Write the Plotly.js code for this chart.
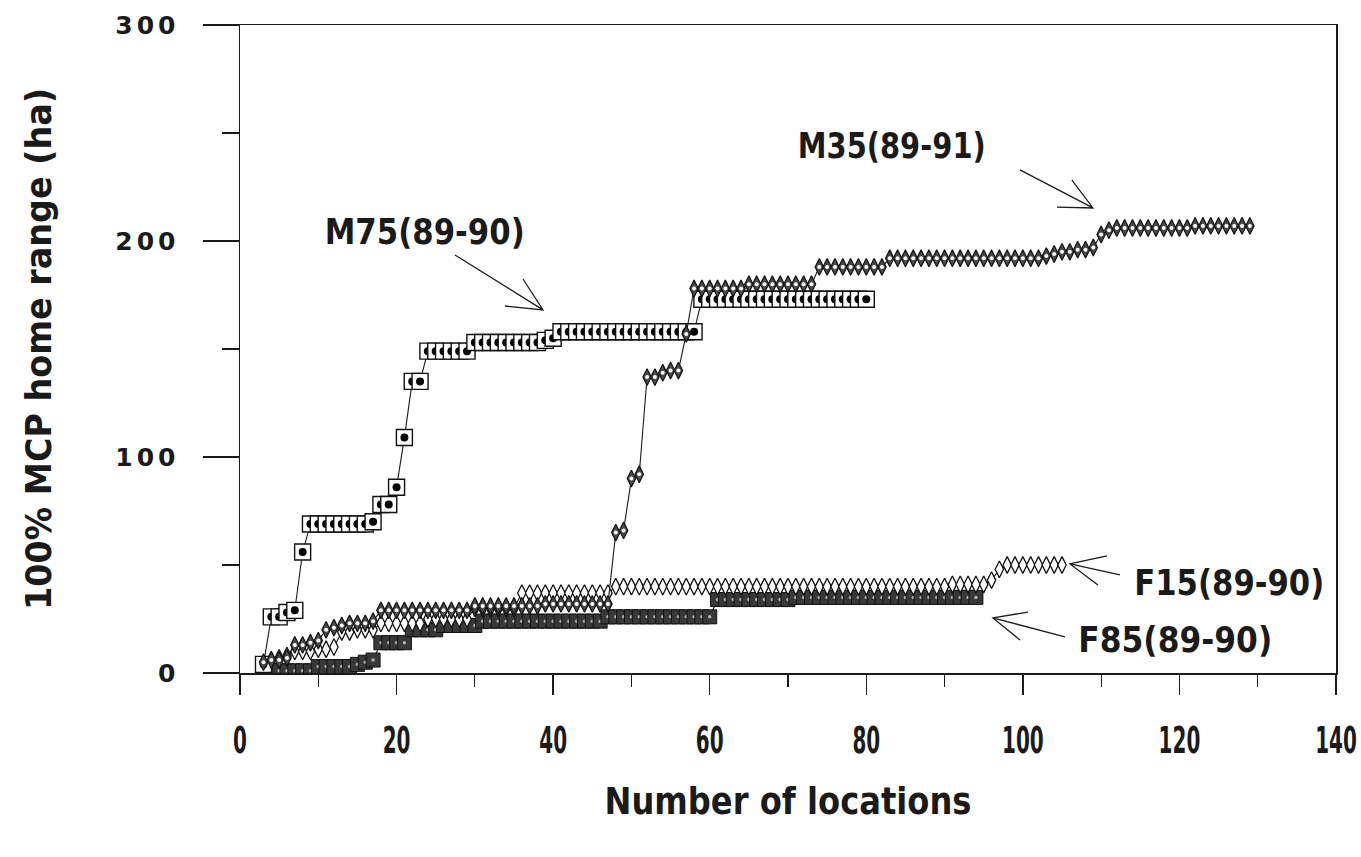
<!DOCTYPE html>
<html>
<head>
<meta charset="utf-8">
<script src="https://cdn.plot.ly/plotly-3.0.1.min.js"></script>
<style>
  html, body { margin: 0; padding: 0; background: #fff; }
  #chart { width: 1361px; height: 857px; }
  .ytick text { letter-spacing: 4px; }
</style>
</head>
<body>
<div id="chart"></div>
<script>
// ---------- data ----------
const m75X = [3,4,5,6,7,8,9,10,11,12,13,14,15,16,17,18,19,20,21,22,23,24,25,26,27,28,29,30,31,32,33,34,35,36,37,38,39,40,41,42,43,44,45,46,47,48,49,50,51,52,53,54,55,56,57,58,59,60,61,62,63,64,65,66,67,68,69,70,71,72,73,74,75,76,77,78,79,80];
const m75Y = [4,26,26,28,29,56,
  69,69,69,69,69,69,69,69,
  70,78,78,86,109,135,135,
  149,149,149,149,149,149,
  153,153,153,153,153,153,153,153,153,
  154,155,
  158,158,158,158,158,158,158,158,158,158,158,158,158,158,158,158,158,158,
  173,173,173,173,173,173,173,173,173,173,173,173,173,173,173,173,173,173,173,173,173,173];

const m35X = [3,4,5,6,7,8,9,10,11,12,13,14,15,16,17,18,19,20,21,22,23,24,25,26,27,28,29,30,31,32,33,34,35,36,37,38,39,40,41,42,43,44,45,46,47,48,49,50,51,52,53,54,55,56,57,58,59,60,61,62,63,64,65,66,67,68,69,70,71,72,73,74,75,76,77,78,79,80,81,82,83,84,85,86,87,88,89,90,91,92,93,94,95,96,97,98,99,100,101,102,103,104,105,106,107,108,109,110,111,112,113,114,115,116,117,118,119,120,121,122,123,124,125,126,127,128,129];
const m35Y = [5,6,6,7,13,13,14,15,20,21,22,23,23,23,24,
  29,29,29,29,29,29,29,29,29,29,29,29,
  31,31,31,31,31,31,31,31,31,
  32,32,32,32,32,32,32,32,32,
  65,66,90,92,137,137,139,140,140,157,
  178,178,178,178,178,178,178,
  180,180,180,180,180,180,180,180,180,
  188,188,188,188,188,188,188,188,188,
  192,192,192,192,192,192,192,192,192,192,192,192,192,192,192,192,192,192,192,192,
  193,194,195,195,196,196,197,
  203,205,
  206,206,206,206,206,206,206,206,206,206,
  207,207,207,207,207,207,207,207];

const f15X = [3,4,5,6,7,8,9,10,11,12,13,14,15,16,17,18,19,20,21,22,23,24,25,26,27,28,29,30,31,32,33,34,35,36,37,38,39,40,41,42,43,44,45,46,47,48,49,50,51,52,53,54,55,56,57,58,59,60,61,62,63,64,65,66,67,68,69,70,71,72,73,74,75,76,77,78,79,80,81,82,83,84,85,86,87,88,89,90,91,92,93,94,95,96,97,98,99,100,101,102,103,104,105];
const f15Y = [4,6,7,8,10,10,10,11,11,12,
  19,19,20,20,20,
  23,23,23,23,23,23,
  25,25,25,25,25,25,
  30,30,30,30,30,30,
  37,37,37,37,37,37,37,37,37,37,37,37,
  40,40,40,40,40,40,40,40,40,40,40,40,40,40,40,40,40,40,40,40,40,40,40,40,40,40,40,40,40,40,40,40,40,40,40,40,40,40,40,40,40,40,40,
  41,41,41,41,41,
  43,48,
  50,50,50,50,50,50,50,50];

const f85X = [3,4,5,6,7,8,9,10,11,12,13,14,15,16,17,18,19,20,21,22,23,24,25,26,27,28,29,30,31,32,33,34,35,36,37,38,39,40,41,42,43,44,45,46,47,48,49,50,51,52,53,54,55,56,57,58,59,60,61,62,63,64,65,66,67,68,69,70,71,72,73,74,75,76,77,78,79,80,81,82,83,84,85,86,87,88,89,90,91,92,93,94];
const f85Y = [0,1,1,1,1,1,1,
  3,3,3,3,3,
  4,5,6,
  14,14,14,14,
  20,20,20,20,
  22,22,22,22,22,
  24,24,24,24,24,24,24,24,24,24,24,24,24,24,24,24,
  26,26,26,26,26,26,26,26,26,26,26,26,26,26,
  34,34,34,34,34,34,34,34,34,34,
  35,35,35,35,35,35,35,35,35,35,35,35,35,35,35,35,35,35,35,35,35,35,35,35];

const seriesLabels = ['M75(89-90)', 'M35(89-91)', 'F15(89-90)', 'F85(89-90)'];
const xTickVals = [0,20,40,60,80,100,120,140];
const yTickVals = [0,100,200,300];
const xTitle = 'Number of locations';
const yTitle = '100% MCP home range (ha)';

// ---------- styling ----------
const FONT = "'DejaVu Sans', sans-serif";
const INK = '#1a1a1a';

function pairedMarkers(xs, ys, outer, inner) {
  const x = [], y = [], sym = [], size = [], col = [], lc = [], lw = [];
  for (let i = 0; i < xs.length; i++) {
    x.push(xs[i]); y.push(ys[i]);
    sym.push(outer.symbol); size.push(outer.size); col.push(outer.color); lc.push(outer.lineColor); lw.push(outer.lineWidth);
    if (inner) {
      x.push(xs[i]); y.push(ys[i]);
      sym.push(inner.symbol); size.push(inner.size); col.push(inner.color); lc.push(inner.lineColor); lw.push(inner.lineWidth);
    }
  }
  return {
    type: 'scatter', mode: 'markers', x: x, y: y, showlegend: false, hoverinfo: 'skip',
    marker: { symbol: sym, size: size, color: col, opacity: 1, line: { color: lc, width: lw } }
  };
}
function lineTrace(xs, ys) {
  return { type: 'scatter', mode: 'lines', x: xs, y: ys, showlegend: false, hoverinfo: 'skip',
           line: { color: INK, width: 1.1 } };
}

const traces = [
  lineTrace(f85X, f85Y),
  pairedMarkers(f85X, f85Y,
    { symbol: 'square', size: 14, color: '#383838', lineColor: '#111', lineWidth: 1 },
    { symbol: 'circle', size: 3.5, color: '#b0b0b0', lineColor: '#b0b0b0', lineWidth: 0 }),
  lineTrace(f15X, f15Y),
  pairedMarkers(f15X, f15Y,
    { symbol: 'diamond-tall', size: 12, color: '#ffffff', lineColor: '#111', lineWidth: 1.3 }, null),
  lineTrace(m75X, m75Y),
  pairedMarkers(m75X, m75Y,
    { symbol: 'square', size: 16, color: '#ffffff', lineColor: '#111', lineWidth: 1.4 },
    { symbol: 'circle', size: 8, color: '#000000', lineColor: '#000', lineWidth: 0 }),
  lineTrace(m35X, m35Y),
  pairedMarkers(m35X, m35Y,
    { symbol: 'diamond-tall', size: 12, color: '#4a4a4a', lineColor: '#111', lineWidth: 1.2 },
    { symbol: 'circle', size: 4, color: '#ffffff', lineColor: '#fff', lineWidth: 0 })
];

// label positions & arrows (annotation geometry, data units)
const labelPos = [[23.6, 204.2], [83.2, 244.0], [126.4, 41.7], [119.5, 15.3]];
const labelWidths = [200, 188, 190, 194];
const arrows = [
  { tail: [27.46, 193.5], tip: [38.70, 168.1], b1: [36.15, 182.4], b2: [33.85, 169.9] },
  { tail: [99.63, 232.9], tip: [108.95, 215.3], b1: [106.27, 228.2], b2: [104.36, 215.7] },
  { tail: [112.40, 45.4], tip: [106.02, 50.5], b1: [110.74, 54.2], b2: [109.59, 40.7] },
  { tail: [105.38, 16.7], tip: [96.18, 25.5], b1: [100.65, 28.2], b2: [99.63, 15.3] }
];

const annotations = seriesLabels.map((t, i) => ({
  text: t, x: labelPos[i][0], y: labelPos[i][1], xref: 'x', yref: 'y',
  showarrow: false, xanchor: 'center', yanchor: 'middle',
  font: { family: FONT, size: 35, color: INK, weight: 'bold' }
}));

const shapes = arrows.map(a => ({
  type: 'path', xref: 'x', yref: 'y',
  path: `M${a.tail[0]},${a.tail[1]} L${a.tip[0]},${a.tip[1]} M${a.b1[0]},${a.b1[1]} L${a.tip[0]},${a.tip[1]} L${a.b2[0]},${a.b2[1]}`,
  line: { color: INK, width: 1.3 }
}));

const layout = {
  width: 1361, height: 857,
  margin: { l: 240, r: 25, t: 25, b: 184 },
  paper_bgcolor: '#ffffff', plot_bgcolor: '#ffffff',
  showlegend: false,
  xaxis: {
    range: [0, 140], showgrid: false, zeroline: false,
    showline: true, linecolor: INK, linewidth: 1.5, mirror: true,
    ticks: 'outside', ticklen: 20, tickwidth: 1.3, tickcolor: INK,
    tickvals: xTickVals, ticktext: xTickVals.map(String),
    minor: { tickvals: [10,30,50,70,90,110,130], ticks: 'outside', ticklen: 12, tickwidth: 1.2, tickcolor: INK },
    tickfont: { family: FONT, size: 37, color: INK, weight: 'bold' },
    ticklabelstandoff: 14, ticklabeloverflow: 'allow',
    title: { text: xTitle, font: { family: FONT, size: 38, color: INK, weight: 'bold' }, standoff: 26 }
  },
  yaxis: {
    range: [0, 300], showgrid: false, zeroline: false,
    showline: true, linecolor: INK, linewidth: 1.5, mirror: true,
    ticks: 'outside', ticklen: 36, tickwidth: 1.3, tickcolor: INK,
    tickvals: yTickVals, ticktext: yTickVals.map(String),
    minor: { tickvals: [50,150,250], ticks: 'outside', ticklen: 17, tickwidth: 1.2, tickcolor: INK },
    tickfont: { family: FONT, size: 25, color: INK, weight: 'bold' },
    ticklabelstandoff: 18,
    title: { text: yTitle, font: { family: FONT, size: 36, color: INK, weight: 'bold' }, standoff: 52 }
  },
  annotations: annotations,
  shapes: shapes
};

// condense text horizontally (keeps real text) to match the narrow bold lettering of the original
function condense(el, width) {
  el.setAttribute('textLength', width);
  el.setAttribute('lengthAdjust', 'spacingAndGlyphs');
}
Plotly.newPlot('chart', traces, layout, { staticPlot: true, displayModeBar: false }).then(gd => {
  // x tick labels: horizontal squeeze about each label's own anchor (a real transform, so its box shrinks too)
  gd.querySelectorAll('.xtick text').forEach(t => {
    const tr = t.getAttribute('transform') || '';
    const ax = parseFloat(t.getAttribute('x') || '0');
    t.setAttribute('transform', tr + ` translate(${ax},0) scale(0.54,1) translate(${-ax},0)`);
  });
  const xt = gd.querySelector('.g-xtitle text');
  if (xt) condense(xt, 367);
  const yt = gd.querySelector('.g-ytitle text');
  if (yt) condense(yt, 522);
  gd.querySelectorAll('.annotation-text').forEach(t => {
    const i = seriesLabels.indexOf(t.textContent);
    if (i >= 0) condense(t, labelWidths[i]);
  });
});
</script>
</body>
</html>
